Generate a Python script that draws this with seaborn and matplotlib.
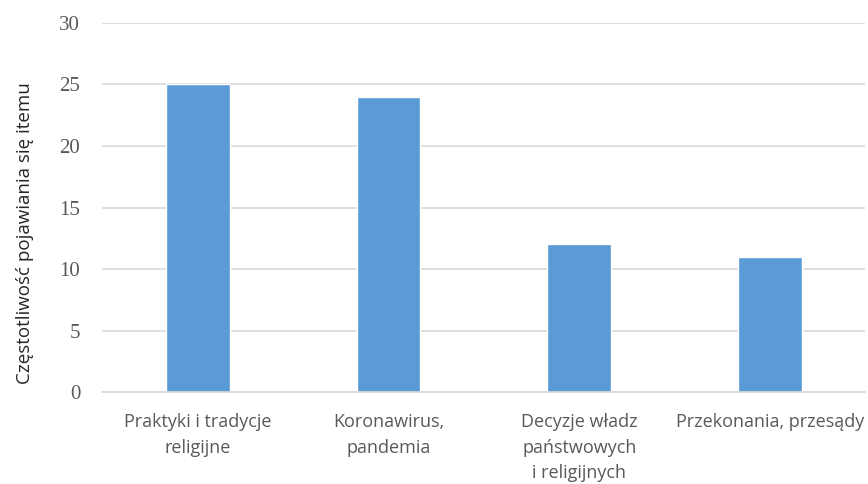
"""Bar chart: how often each item appeared in the responses."""

import matplotlib

matplotlib.use("Agg")
import matplotlib.pyplot as plt
import pandas as pd
import seaborn as sns

CATEGORIES = [
    "Praktyki i tradycje\nreligijne",
    "Koronawirus,\npandemia",
    "Decyzje władz\npaństwowych\ni religijnych",
    "Przekonania, przesądy",
]
COUNTS = [25, 24, 12, 11]
Y_TICKS = [0, 5, 10, 15, 20, 25, 30]
Y_LABEL = "Częstotliwość pojawiania się itemu"

BAR_COLOR = "#5B9BD5"
GRID_COLOR = "#D9D9D9"
TEXT_COLOR = "#595959"


def main() -> None:
    df = pd.DataFrame({"category": CATEGORIES, "count": COUNTS})

    sns.set_theme(style="white")
    fig = plt.figure(figsize=(8.68, 4.84), dpi=100)
    ax = fig.add_axes([0.118, 0.19, 0.879, 0.7625])

    sns.barplot(data=df, x="category", y="count", color=BAR_COLOR,
                saturation=1, width=0.335, ax=ax)

    ax.set_ylim(0, 30)
    ax.set_yticks(Y_TICKS)
    ax.set_yticklabels([str(t) for t in Y_TICKS], family="Liberation Serif",
                       fontsize=15, color=TEXT_COLOR)
    ax.set_xticks(range(len(CATEGORIES)))
    ax.set_xticklabels(CATEGORIES, family="Open Sans", fontsize=13,
                       color=TEXT_COLOR, linespacing=1.55)
    ax.tick_params(axis="y", length=0, pad=16)
    ax.tick_params(axis="x", length=0, pad=15)

    ax.set_xlabel("")
    ax.set_ylabel(Y_LABEL, family="Open Sans", fontsize=13.5, color="#262626")
    ax.yaxis.set_label_coords(-0.09, 0.43)

    ax.yaxis.grid(True, color=GRID_COLOR, linewidth=1.2)
    ax.set_axisbelow(True)
    for side in ("top", "right", "left"):
        ax.spines[side].set_visible(False)
    ax.spines["bottom"].set_color(GRID_COLOR)
    ax.spines["bottom"].set_linewidth(1.2)

    fig.savefig("out.png", dpi=100)
    plt.close(fig)


if __name__ == "__main__":
    main()
